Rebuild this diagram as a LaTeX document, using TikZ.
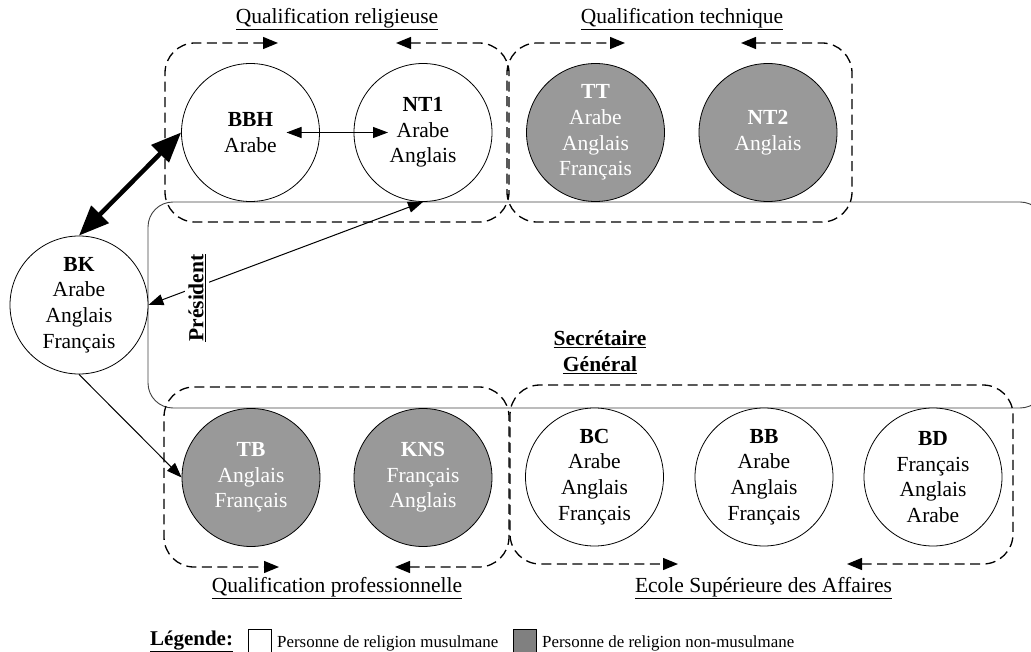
\documentclass[tikz,border=0pt]{standalone}
\usepackage{fontspec}
\setmainfont{Liberation Serif}
\usetikzlibrary{arrows.meta}
\definecolor{nonmus}{HTML}{999999}
\begin{document}
\begin{tikzpicture}[x=1pt,y=-1pt,
  person/.style={circle,draw=black,line width=0.8pt,minimum size=138pt,inner sep=0pt,align=center,
    font=\fontsize{21.5}{25.7}\selectfont},
  mus/.style={person,fill=white,text=black},
  nonm/.style={person,fill=nonmus,text=white},
  group/.style={dashed,line width=1.3pt,dash pattern=on 10pt off 5.5pt,rounded corners=30pt,
    {Triangle[length=15pt,width=12pt]}-{Triangle[length=15pt,width=12pt]}},
  glabel/.style={font=\fontsize{21.5}{25.7}\selectfont},
  thin arrow/.style={line width=1pt,{Triangle[length=15pt,width=11pt]}-{Triangle[length=15pt,width=11pt]}},
  role/.style={font=\fontsize{21.5}{25.7}\selectfont\bfseries,align=center},
  legtext/.style={anchor=base west,inner sep=0pt,font=\fontsize{16.9}{20}\selectfont}
]
\useasboundingbox (0,0) rectangle (1031,652);

% big rounded frame (Président / Secrétaire Général)
\draw[line width=0.9pt,black!75,rounded corners=25pt] (148,202) rectangle (1045,408);

% group frames
\draw[group] (396,43) -- (509,43) -- (509,222) -- (165,222) -- (165,43) -- (278,43);
\draw[group] (741,43) -- (852,43) -- (852,222) -- (507,222) -- (507,43) -- (625,43);
\draw[group] (395,567) -- (509,567) -- (509,387) -- (164,387) -- (164,567) -- (279,567);
\draw[group] (847,564) -- (1013,564) -- (1013,385) -- (510,385) -- (510,564) -- (678,564);

% group labels
\node[glabel] (lrel) at (337,19) {\underline{Qualification religieuse}};
\node[glabel] (ltech) at (682,19) {\underline{Qualification technique}};
\node[glabel] (lpro) at (337,588) {\underline{Qualification professionnelle}};
\node[glabel] (lesa) at (763.5,588) {\underline{Ecole Supérieure des Affaires}};

% persons
\node[mus] (BBH) at (250.5,132.5) {\textbf{BBH}\\Arabe};
\node[mus] (NT1) at (423,132.5) {\textbf{NT1}\\Arabe\\Anglais};
\node[nonm] (TT) at (595.5,132.5) {\textbf{TT}\\Arabe\\Anglais\\Français};
\node[nonm] (NT2) at (768,132.5) {\textbf{NT2}\\Anglais};
\node[mus] (BK) at (79,305) {\textbf{BK}\\Arabe\\Anglais\\Français};
\node[nonm] (TB) at (251,477.5) {\textbf{TB}\\Anglais\\Français};
\node[nonm] (KNS) at (423,477.5) {\textbf{KNS}\\Français\\Anglais};
\node[mus] (BC) at (594.5,477) {\textbf{BC}\\Arabe\\Anglais\\Français};
\node[mus] (BB) at (764,477) {\textbf{BB}\\Arabe\\Anglais\\Français};
\node[mus] (BD) at (933,477) {\textbf{BD}\\Français\\Anglais\\Arabe};

% connectors
\draw[line width=4.5pt,{Triangle[length=30pt,width=24pt]}-{Triangle[length=30pt,width=24pt]}] (BK.north) -- (BBH.west);
\draw[thin arrow] ([xshift=36pt]BBH.center) -- ([xshift=-35pt]NT1.center);
\draw[thin arrow] (BK.east) -- (NT1.south);
\draw[line width=1pt,-{Triangle[length=15pt,width=11pt]}] (BK.south) -- (TB.west);

% roles
\node[role,rotate=90,fill=white,inner sep=3pt] (pres) at (197,298) {\underline{Président}};
\node[role] (sg) at (600,352) {\underline{Secrétaire}\\\underline{Général}};

% legend
\node[anchor=base west,inner sep=0pt,font=\fontsize{21}{25}\selectfont\bfseries] (leg) at (150,645) {\underline{Légende:}};
\draw[line width=0.8pt] (248,629) rectangle (271,660);
\node[legtext] (leg1) at (277,647) {Personne de religion musulmane};
\draw[line width=0.8pt,fill=black!50] (513,629) rectangle (536,660);
\node[legtext] (leg2) at (542,647) {Personne de religion non-musulmane};
\end{tikzpicture}
\end{document}
